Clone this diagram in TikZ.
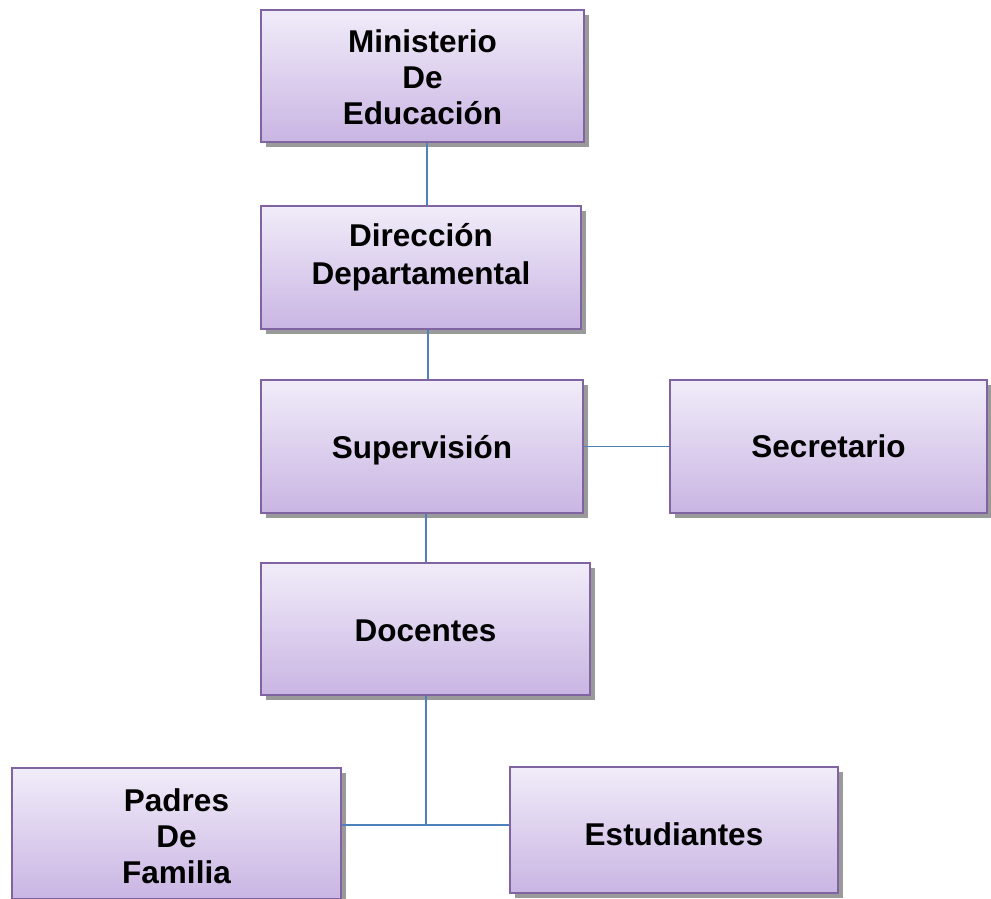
\documentclass[tikz,border=0pt]{standalone}
\usepackage{fontspec}
\setmainfont{Liberation Sans}
\usetikzlibrary{shadows}
\definecolor{boxtop}{HTML}{F1ECF9}
\definecolor{boxbot}{HTML}{C9B5E3}
\definecolor{boxline}{HTML}{8064A2}
\definecolor{linkblue}{HTML}{4F81BD}
\definecolor{shadowgray}{HTML}{9A9A9A}
\newcommand{\boxlines}[2]{\raisebox{#1}[0pt][0pt]{\begin{tabular}[t]{@{}c@{}}#2\end{tabular}}}
\tikzset{
  orgbox/.style={rectangle, draw=boxline, line width=1.5pt,
    top color=boxtop, bottom color=boxbot,
    font=\fontsize{31.5}{36}\selectfont\bfseries, inner sep=0pt,
    general shadow={fill=shadowgray, shadow xshift=5pt, shadow yshift=-5pt}},
  link/.style={draw=linkblue, line width=1.6pt}
}
\begin{document}
\begin{tikzpicture}[x=1pt,y=-1pt]
\useasboundingbox (0,0) rectangle (991,899);
\node[orgbox, minimum width=323pt, minimum height=132pt] (min) at (422.5,76) {\boxlines{24pt}{Ministerio\\[0.5pt]De\\[0.5pt]Educación}};
\node[orgbox, minimum width=320pt, minimum height=123pt] (dir) at (421,267.5) {\boxlines{21pt}{Dirección\\[2pt]Departamental}};
\node[orgbox, minimum width=322pt, minimum height=133pt] (sup) at (422,446.5) {\boxlines{-11.5pt}{Supervisión}};
\node[orgbox, minimum width=317pt, minimum height=133pt] (sec) at (828.5,446.5) {\boxlines{-11pt}{Secretario}};
\node[orgbox, minimum width=329pt, minimum height=132pt] (doc) at (425.5,629) {\boxlines{-12pt}{Docentes}};
\node[orgbox, minimum width=329pt, minimum height=131pt] (pad) at (176.5,833.5) {\boxlines{22.5pt}{Padres\\De\\Familia}};
\node[orgbox, minimum width=328pt, minimum height=126pt] (est) at (674,830) {\boxlines{-15pt}{Estudiantes}};
\coordinate (j) at (426,825);
\draw[link] (427,0 |- min.south) -- (427,0 |- dir.north);
\draw[link] (428,0 |- dir.south) -- (428,0 |- sup.north);
\draw[link] (426,0 |- sup.south) -- (426,0 |- doc.north);
\draw[link] (sup.east) -- (sec.west);
\draw[link] (j |- doc.south) -- (j);
\draw[link] (pad.east |- j) -- (est.west |- j);
\end{tikzpicture}
\end{document}
